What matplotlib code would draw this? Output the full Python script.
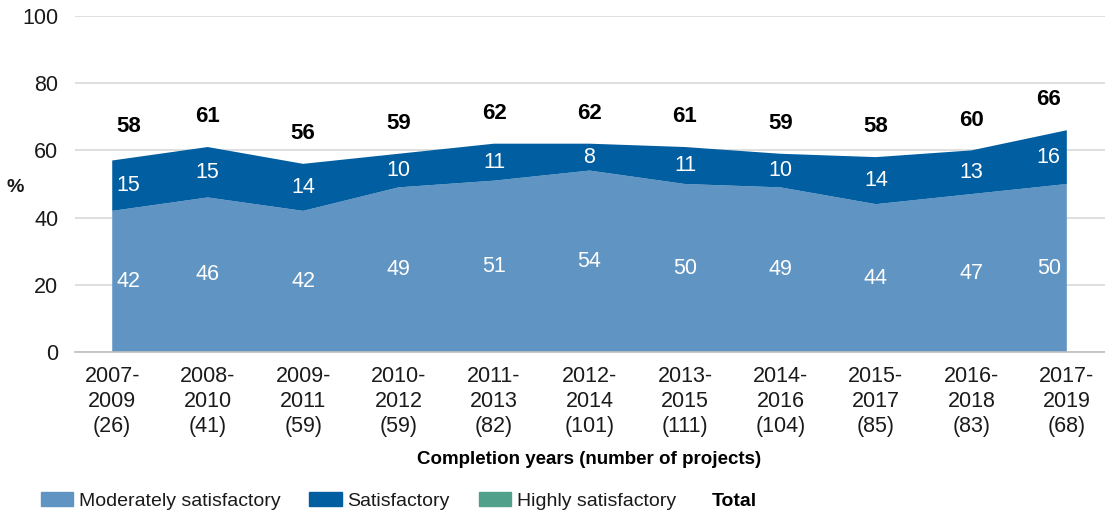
import matplotlib
matplotlib.use("Agg")
import matplotlib.pyplot as plt
from matplotlib.patches import Patch
import numpy as np

# Completion periods and number of projects in each
periods = ["2007-\n2009", "2008-\n2010", "2009-\n2011", "2010-\n2012", "2011-\n2013",
           "2012-\n2014", "2013-\n2015", "2014-\n2016", "2015-\n2017", "2016-\n2018",
           "2017-\n2019"]
n_projects = [26, 41, 59, 59, 82, 101, 111, 104, 85, 83, 68]

# Share of projects by rating (%)
moderately = [42, 46, 42, 49, 51, 54, 50, 49, 44, 47, 50]
satisfactory = [15, 15, 14, 10, 11, 8, 11, 10, 14, 13, 16]
highly = [0, 0, 0, 0, 0, 0, 0, 0, 0, 0, 0]
total = [58, 61, 56, 59, 62, 62, 61, 59, 58, 60, 66]

c_mod = "#6094c2"
c_sat = "#005ea1"
c_high = "#50a08c"
txt = "#1a1a1a"

plt.rcParams["font.family"] = ["Liberation Sans", "DejaVu Sans"]

fig = plt.figure(figsize=(11.05, 5.16), dpi=100)
ax = fig.add_axes([75 / 1105, 1 - 352 / 516, 1 - 75 / 1105, 336 / 516])

x = np.arange(len(periods))
ax.stackplot(x, moderately, satisfactory, highly, colors=[c_mod, c_sat, c_high],
             linewidth=0, zorder=2)

ax.set_xlim(-0.39, len(x) - 1 + 0.4)
ax.set_ylim(0, 100)
ax.set_yticks(range(0, 101, 20))
ax.grid(axis="y", color="#d9d9d9", linewidth=1.2, zorder=0)
ax.set_axisbelow(True)
for s in ["top", "right", "left"]:
    ax.spines[s].set_visible(False)
ax.spines["bottom"].set_color("#bfbfbf")
ax.spines["bottom"].set_linewidth(1.2)

ax.set_xticks(x)
ax.set_xticklabels([f"{p}\n({n})" for p, n in zip(periods, n_projects)],
                   fontsize=15.5, color=txt, linespacing=1.25)
ax.tick_params(axis="x", length=0, pad=10)
ax.tick_params(axis="y", length=0, pad=12, labelsize=15.5, labelcolor=txt)

# Value labels inside the bands and totals above
for i in x:
    dx = 0.17 if i == 0 else (-0.19 if i == len(x) - 1 else 0)
    ax.text(i + dx, moderately[i] / 2, str(moderately[i]), ha="center", va="center",
            color="white", fontsize=15.5, zorder=3)
    ax.text(i + dx, moderately[i] + satisfactory[i] / 2, str(satisfactory[i]),
            ha="center", va="center", color="white", fontsize=15.5, zorder=3)
    ax.text(i + dx, total[i] + 9, str(total[i]), ha="center", va="center",
            color="black", fontsize=16, fontweight="bold", zorder=3)

fig.text(15 / 1105, 1 - 188 / 516, "%", ha="center", va="center", fontsize=14,
         fontweight="bold", color=txt)
fig.text(589 / 1105, 1 - 460 / 516, "Completion years (number of projects)",
         ha="center", va="center", fontsize=13.5, fontweight="bold", color="black")

handles = [Patch(color=c_mod, label="Moderately satisfactory"),
           Patch(color=c_sat, label="Satisfactory"),
           Patch(color=c_high, label="Highly satisfactory")]
fig.legend(handles=handles, loc="center left", bbox_to_anchor=(33 / 1105, 1 - 501 / 516),
           ncol=3, frameon=False, fontsize=14, handlelength=1.65, handleheight=0.7,
           handletextpad=0.3, columnspacing=1.5, labelcolor=txt, borderaxespad=0)
fig.text(712 / 1105, 1 - 501 / 516, "Total", ha="left", va="center", fontsize=14,
         fontweight="bold", color="black")

fig.savefig("out.png", dpi=100)
